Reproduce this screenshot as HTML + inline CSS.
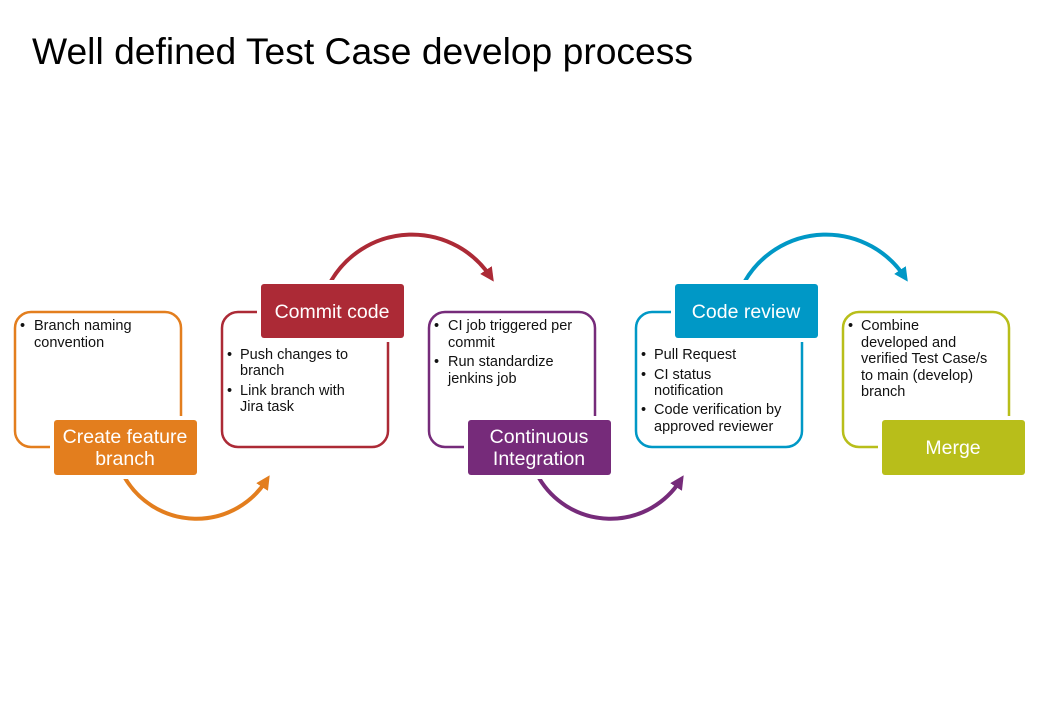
<!DOCTYPE html>
<html><head><meta charset="utf-8"><style>
html,body{margin:0;padding:0;background:#fff;}
svg{display:block;}
text{font-family:"Liberation Sans",Arial,sans-serif;}
.t{font-size:14.5px;fill:#111;}
.l{font-size:19.5px;fill:#fff;text-anchor:middle;}
</style></head><body>
<svg width="1040" height="720" viewBox="0 0 1040 720" xmlns="http://www.w3.org/2000/svg">
<defs>
<marker id="ao" markerWidth="3.5" markerHeight="3.5" refX="1.8" refY="1.75" orient="auto" markerUnits="strokeWidth"><path d="M0,0 L3.5,1.75 L0,3.5 z" fill="#E37E1E"/></marker>
<marker id="ar" markerWidth="3.5" markerHeight="3.5" refX="1.8" refY="1.75" orient="auto" markerUnits="strokeWidth"><path d="M0,0 L3.5,1.75 L0,3.5 z" fill="#AC2A36"/></marker>
<marker id="ap" markerWidth="3.5" markerHeight="3.5" refX="1.8" refY="1.75" orient="auto" markerUnits="strokeWidth"><path d="M0,0 L3.5,1.75 L0,3.5 z" fill="#762B7A"/></marker>
<marker id="ab" markerWidth="3.5" markerHeight="3.5" refX="1.8" refY="1.75" orient="auto" markerUnits="strokeWidth"><path d="M0,0 L3.5,1.75 L0,3.5 z" fill="#0098C6"/></marker>
</defs>
<text x="32" y="64" font-size="37" fill="#000" textLength="661" lengthAdjust="spacingAndGlyphs">Well defined Test Case develop process</text>

<!-- arcs -->
<path d="M125,478 A83,83 0 0 0 266,481" fill="none" stroke="#E37E1E" stroke-width="4" marker-end="url(#ao)"/>
<path d="M331,281 A94,94 0 0 1 490,276" fill="none" stroke="#AC2A36" stroke-width="4" marker-end="url(#ar)"/>
<path d="M539,478 A83,83 0 0 0 680,481" fill="none" stroke="#762B7A" stroke-width="4" marker-end="url(#ap)"/>
<path d="M745,281 A94,94 0 0 1 904,276" fill="none" stroke="#0098C6" stroke-width="4" marker-end="url(#ab)"/>

<!-- box 1 -->
<rect x="15" y="312" width="166" height="135" rx="16" fill="#fff" stroke="#E37E1E" stroke-width="2.5"/>
<rect x="50" y="416" width="151" height="63" fill="#fff"/>
<rect x="54" y="420" width="143" height="55" rx="3" fill="#E37E1E"/>
<text class="t" x="20" y="330">•</text><text class="t" x="34" y="330">Branch naming</text>
<text class="t" x="34" y="347">convention</text>
<text class="l" x="125" y="443">Create feature</text><text class="l" x="125" y="465">branch</text>

<!-- box 2 -->
<rect x="222" y="312" width="166" height="135" rx="16" fill="#fff" stroke="#AC2A36" stroke-width="2.5"/>
<rect x="257" y="280" width="151" height="62" fill="#fff"/>
<rect x="261" y="284" width="143" height="54" rx="3" fill="#AC2A36"/>
<text class="l" x="332" y="318">Commit  code</text>
<text class="t" x="227" y="359">•</text><text class="t" x="240" y="359">Push changes to</text>
<text class="t" x="240" y="375">branch</text>
<text class="t" x="227" y="395">•</text><text class="t" x="240" y="395">Link branch with</text>
<text class="t" x="240" y="411">Jira task</text>

<!-- box 3 -->
<rect x="429" y="312" width="166" height="135" rx="16" fill="#fff" stroke="#762B7A" stroke-width="2.5"/>
<rect x="464" y="416" width="151" height="63" fill="#fff"/>
<rect x="468" y="420" width="143" height="55" rx="3" fill="#762B7A"/>
<text class="t" x="434" y="330">•</text><text class="t" x="448" y="330">CI job triggered per</text>
<text class="t" x="448" y="347">commit</text>
<text class="t" x="434" y="366">•</text><text class="t" x="448" y="366">Run standardize</text>
<text class="t" x="448" y="383">jenkins job</text>
<text class="l" x="539" y="443">Continuous</text><text class="l" x="539" y="465">Integration</text>

<!-- box 4 -->
<rect x="636" y="312" width="166" height="135" rx="16" fill="#fff" stroke="#0098C6" stroke-width="2.5"/>
<rect x="671" y="280" width="151" height="62" fill="#fff"/>
<rect x="675" y="284" width="143" height="54" rx="3" fill="#0098C6"/>
<text class="l" x="746" y="318">Code review</text>
<text class="t" x="641" y="359">•</text><text class="t" x="654" y="359">Pull Request</text>
<text class="t" x="641" y="379">•</text><text class="t" x="654" y="379">CI status</text>
<text class="t" x="654" y="395">notification</text>
<text class="t" x="641" y="414">•</text><text class="t" x="654" y="414">Code verification by</text>
<text class="t" x="654" y="431">approved reviewer</text>

<!-- box 5 -->
<rect x="843" y="312" width="166" height="135" rx="16" fill="#fff" stroke="#B8BE1A" stroke-width="2.5"/>
<rect x="878" y="416" width="151" height="63" fill="#fff"/>
<rect x="882" y="420" width="143" height="55" rx="3" fill="#B8BE1A"/>
<text class="t" x="848" y="330">•</text><text class="t" x="861" y="330">Combine</text>
<text class="t" x="861" y="347">developed and</text>
<text class="t" x="861" y="363">verified Test Case/s</text>
<text class="t" x="861" y="380">to main (develop)</text>
<text class="t" x="861" y="396">branch</text>
<text class="l" x="953" y="454">Merge</text>
</svg>
</body></html>
